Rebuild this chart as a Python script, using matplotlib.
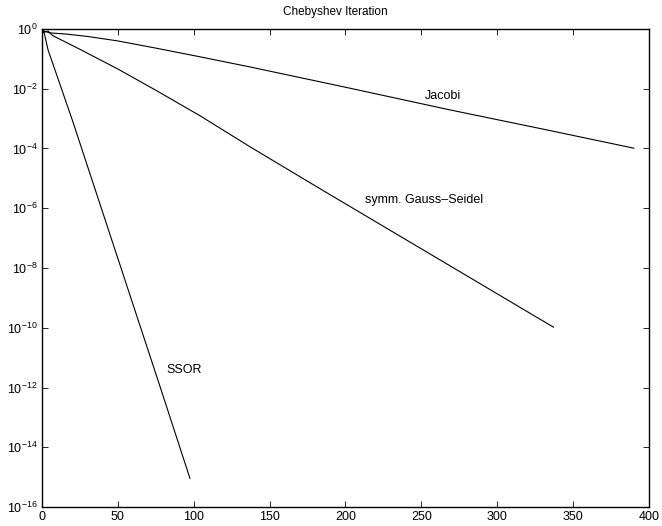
import numpy as np
import matplotlib
matplotlib.use("Agg")
import matplotlib.pyplot as plt
from matplotlib.ticker import NullLocator, FixedLocator

plt.rcParams['font.family'] = ['Liberation Sans', 'DejaVu Sans']

# iteration numbers and residual exponents (log10)
jacobi_it = [0, 1, 2, 5, 16, 30, 50, 75, 104, 137, 200, 269, 330, 390]
jacobi_exp = [0.0, -0.12, -0.08, -0.13, -0.17, -0.25, -0.40, -0.64, -0.93, -1.27, -1.95, -2.71, -3.35, -3.99]

gs_it = [0, 2, 4, 7, 25, 50, 75, 104, 137, 184, 337]
gs_exp = [0.0, -0.1, -0.07, -0.22, -0.68, -1.34, -2.05, -2.9, -3.94, -5.37, -9.98]

ssor_it = [0, 1, 4, 20, 55, 78, 97.5]
ssor_exp = [0.0, -0.03, -0.7, -3.05, -8.45, -12.0, -15.04]

x_ticks = [0, 50, 100, 150, 200, 250, 300, 350, 400]
y_ticks = [1e-16, 1e-14, 1e-12, 1e-10, 1e-8, 1e-6, 1e-4, 1e-2, 1e0]

labels = ["Jacobi", "symm. Gauss\u2013Seidel", "SSOR"]
label_pos = [(252, 10 ** -2.24), (213, 10 ** -5.72), (82, 10 ** -11.42)]

fig = plt.figure(figsize=(6.62, 5.26), dpi=100)
ax = fig.add_axes([0.0634, 0.0361, 0.917, 0.9088])

for it, ex in [(jacobi_it, jacobi_exp), (gs_it, gs_exp), (ssor_it, ssor_exp)]:
    ax.semilogy(it, 10.0 ** np.array(ex), color='black', linewidth=0.8)

for text, (tx, ty) in zip(labels, label_pos):
    ax.text(tx, ty, text, fontsize=9, va='center', ha='left')

ax.set_xlim(0, 400)
ax.set_ylim(1e-16, 1e0)
ax.xaxis.set_major_locator(FixedLocator(x_ticks))
ax.yaxis.set_major_locator(FixedLocator(y_ticks))
ax.yaxis.set_minor_locator(NullLocator())
ax.tick_params(direction='in', length=4, width=0.6, top=True, right=True,
               labelsize=9, pad=3)
for sp in ax.spines.values():
    sp.set_linewidth(1.0)

ax.set_title("Chebyshev Iteration", fontsize=8.5, pad=10, x=0.484)

fig.savefig("out.png", dpi=100)
